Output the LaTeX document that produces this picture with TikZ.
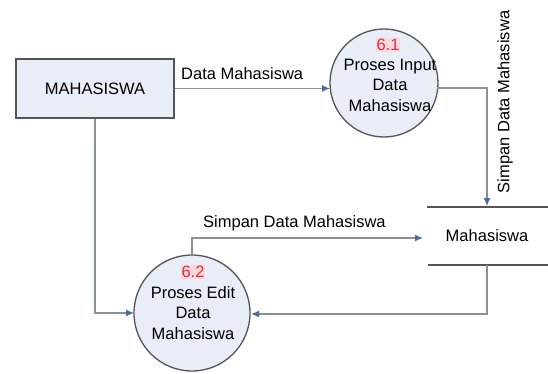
\documentclass[tikz,border=0pt]{standalone}
\usepackage{fontspec}
\setmainfont{Liberation Sans}
\usetikzlibrary{arrows.meta,calc}
\definecolor{boxfill}{HTML}{E9EDF8}
\definecolor{edge}{HTML}{555555}
\definecolor{flow}{HTML}{8A9095}
\definecolor{tipcol}{HTML}{4A6C9E}
\definecolor{numred}{HTML}{E0303A}
\definecolor{numbg}{HTML}{F8D8DE}
\tikzset{
  entity/.style={draw=edge, line width=1.3pt, fill=boxfill, minimum width=158pt, minimum height=59pt, inner sep=0pt, font=\fontsize{16.5}{18}\selectfont},
  process/.style={draw=edge, line width=1.3pt, fill=boxfill, circle, inner sep=0pt},
  ptext/.style={align=center, font=\fontsize{16.5}{20.5}\selectfont, inner sep=0pt},
  pnum/.style={text=numred, fill=numbg, inner sep=1pt, font=\fontsize{16.5}{18}\selectfont},
  flowline/.style={draw=flow, line width=1.2pt, -{Latex[length=8pt,width=7pt,color=tipcol]}},
  storeline/.style={draw=edge, line width=1.5pt},
  lbl/.style={font=\fontsize{16.5}{18}\selectfont, inner sep=0pt}
}
\begin{document}
\begin{tikzpicture}[x=1pt,y=-1pt]
\useasboundingbox (0,0) rectangle (548,374);
\fill[white] (0,0) rectangle (548,374);

% external entity
\node[entity] (mhs) at (95,88.5) {MAHASISWA};

% processes
\node[process, minimum size=108pt] (p61) at (384,83) {};
\node[pnum] (n61) at (388,45) {6.1};
\node[ptext] (t61) at (390,85) {Proses Input\\Data\\Mahasiswa};

\node[process, minimum size=116pt] (p62) at (192,313) {};
\node[pnum] (n62) at (193,272) {6.2};
\node[ptext] (t62) at (193,313) {Proses Edit\\Data\\Mahasiswa};

% data store
\coordinate (stTL) at (427,207);
\coordinate (stTR) at (548,207);
\coordinate (stBL) at (428,265);
\coordinate (stBR) at (548,265);
\draw[storeline] (stTL) -- (stTR);
\draw[storeline] (stBL) -- (stBR);
\node[lbl] (store) at (487,236) {Mahasiswa};

% flows
\coordinate (a1) at ($(mhs.east)+(0,0)$);
\draw[flowline] (a1) -- (330,88.5);
\node[lbl, anchor=south west] (l1) at (181,80) {Data Mahasiswa};

\coordinate (b1) at (437,88);
\coordinate (b2) at (487,88);
\draw[flowline] (b1) -- (b2) -- (487,206);
\node[lbl, rotate=90] (l2) at (505,102) {Simpan Data Mahasiswa};

\coordinate (c1) at (192,255);
\coordinate (c2) at (192,238);
\draw[flowline] (c1) -- (c2) -- (423,238);
\node[lbl, anchor=south west] (l3) at (203,231) {Simpan Data Mahasiswa};

\coordinate (d1) at (95,313);
\draw[flowline] (mhs.south) -- (d1) -- (134,313);

\coordinate (e1) at (487,265);
\coordinate (e2) at (487,314);
\draw[flowline] (e1) -- (e2) -- (251,314);
\end{tikzpicture}
\end{document}
